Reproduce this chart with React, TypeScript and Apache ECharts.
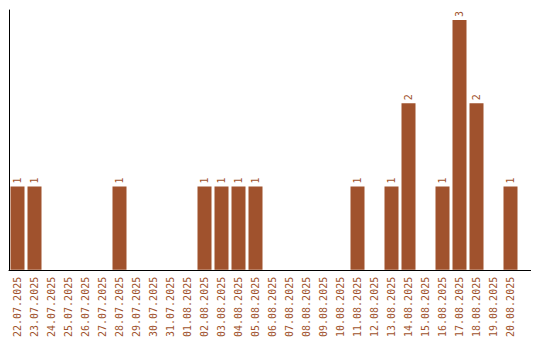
import React, { useEffect, useRef } from "react";
import * as echarts from "echarts";

const categories = [
  "22.07.2025", "23.07.2025", "24.07.2025", "25.07.2025", "26.07.2025", "27.07.2025",
  "28.07.2025", "29.07.2025", "30.07.2025", "31.07.2025", "01.08.2025", "02.08.2025",
  "03.08.2025", "04.08.2025", "05.08.2025", "06.08.2025", "07.08.2025", "08.08.2025",
  "09.08.2025", "10.08.2025", "11.08.2025", "12.08.2025", "13.08.2025", "14.08.2025",
  "15.08.2025", "16.08.2025", "17.08.2025", "18.08.2025", "19.08.2025", "20.08.2025",
];
const counts = [
  1, 1, 0, 0, 0, 0,
  1, 0, 0, 0, 0, 1,
  1, 1, 1, 0, 0, 0,
  0, 0, 1, 0, 1, 2,
  0, 1, 3, 2, 0, 1,
];

const BAR = "#a0522d";
const FONT = "DejaVu Sans Mono";

export default function App() {
  const ref = useRef<HTMLDivElement>(null);
  useEffect(() => {
    if (!ref.current) return;
    const chart = echarts.init(ref.current, null, { renderer: "svg" });
    chart.setOption({
      animation: false,
      grid: { left: 9, right: 21, top: 10, bottom: 70 },
      graphic: [
        {
          type: "line",
          shape: { x1: 519, y1: 270.5, x2: 531, y2: 270.5 },
          style: { stroke: "#000", lineWidth: 1 },
          silent: true,
        },
      ],
      xAxis: {
        type: "category",
        data: categories,
        axisLine: { lineStyle: { color: "#000", width: 1 } },
        axisTick: { show: false },
        axisLabel: {
          interval: 0,
          rotate: 90,
          color: BAR,
          fontFamily: FONT,
          fontSize: 10,
          margin: 7,
        },
      },
      yAxis: {
        type: "value",
        min: 0,
        max: 3.12,
        axisLine: { show: true, lineStyle: { color: "#000", width: 1 } },
        axisTick: { show: false },
        axisLabel: { show: false },
        splitLine: { show: false },
      },
      series: [
        {
          type: "bar",
          data: counts,
          barWidth: 14,
          itemStyle: { color: BAR },
          label: {
            show: true,
            position: "top",
            rotate: 90,
            align: "left",
            verticalAlign: "middle",
            distance: 3,
            color: BAR,
            fontFamily: FONT,
            fontSize: 10,
            formatter: (p: any) => (p.value ? String(p.value) : ""),
          },
        },
      ],
    });
    return () => chart.dispose();
  }, []);
  return (
    <div
      ref={ref}
      style={{ position: "absolute", left: 0, top: 0, width: 540, height: 340, background: "#fff" }}
    />
  );
}
